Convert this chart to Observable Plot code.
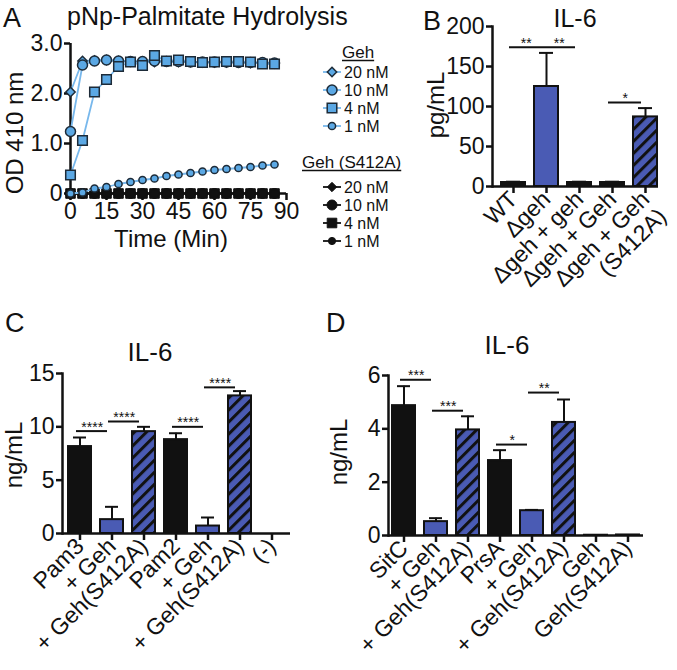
<!DOCTYPE html>
<html><head><meta charset="utf-8">
<script src="https://cdn.jsdelivr.net/npm/d3@7"></script>
<script src="https://cdn.jsdelivr.net/npm/@observablehq/plot@0.6"></script>
<style>
html,body{margin:0;padding:0;background:#fff;}
#fig{position:relative;width:677px;height:670px;overflow:hidden;background:#fff;}
</style></head>
<body><div id="fig"></div>
<script>
// ---------------- DATA ----------------
// Panel A: pNp-Palmitate hydrolysis (OD 410 nm vs time, min)
const times = [0,5,10,15,20,25,30,35,40,45,50,55,60,65,70,75,80,85];
const concLabels = ["20 nM","10 nM","4 nM","1 nM"];
const geh20 = [2.03,2.65,2.66,2.67,2.65,2.64,2.64,2.63,2.64,2.63,2.63,2.62,2.62,2.62,2.62,2.61,2.61,2.60];
const geh10 = [1.24,2.57,2.65,2.67,2.65,2.64,2.64,2.65,2.64,2.64,2.63,2.63,2.63,2.63,2.62,2.62,2.62,2.61];
const geh4  = [0.37,1.06,2.03,2.28,2.54,2.63,2.56,2.76,2.65,2.67,2.64,2.62,2.63,2.64,2.64,2.63,2.59,2.59];
const geh1  = [0.00,0.02,0.10,0.13,0.19,0.23,0.27,0.30,0.35,0.38,0.41,0.44,0.47,0.49,0.51,0.53,0.56,0.58];
const mut20 = [0,0,0,0,0,0,0,0,0,0,0,0,0,0,0,0,0,0];
const mut10 = [0,0,0,0,0,0,0,0,0,0,0,0,0,0,0,0,0,0];
const mut4  = [0,0,0,0,0,0,0,0,0,0,0,0,0,0,0,0,0,0];
const mut1  = [0,0,0,0,0,0,0,0,0,0,0,0,0,0,0,0,0,0];
const xTicksA = [0,15,30,45,60,75,90];
const yTicksA = [0,1,2,3];

// Panel B: IL-6 (pg/mL)
const catsB = ["WT","Δgeh","Δgeh + geh","Δgeh + Geh","Δgeh + Geh\n(S412A)"];
const valsB = [5,125,5,5,87];
const errsB = [1,42,1,1,11];
const sigB = [{from:0,to:1,y:174,label:"**"},{from:1,to:2,y:174,label:"**"},{from:3,to:4,y:105,label:"*"}];
const yTicksB = [0,50,100,150,200];

// Panel C: IL-6 (ng/mL)
const catsC = ["Pam3","+ Geh","+ Geh(S412A)","Pam2","+ Geh","+ Geh(S412A)","(-)"];
const valsC = [8.15,1.3,9.55,8.8,0.7,12.9,0];
const errsC = [0.85,1.2,0.45,0.6,0.8,0.45,0];
const sigC = [{from:0,to:1,y:9.6,label:"****"},{from:1,to:2,y:10.5,label:"****"},{from:3,to:4,y:10.0,label:"****"},{from:4,to:5,y:13.7,label:"****"}];
const yTicksC = [0,5,10,15];

// Panel D: IL-6 (ng/mL)
const catsD = ["SitC","+ Geh","+ Geh(S412A)","PrsA","+ Geh","+ Geh(S412A)","Geh","Geh(S412A)"];
const valsD = [4.87,0.52,3.96,2.81,0.93,4.24,0.01,0.02];
const errsD = [0.73,0.13,0.51,0.39,0.03,0.86,0,0];
const sigD = [{from:0,to:1,y:5.84,label:"***"},{from:1,to:2,y:4.68,label:"***"},{from:3,to:4,y:3.41,label:"*"},{from:4,to:5,y:5.36,label:"**"}];
const yTicksD = [0,2,4,6];

// ---------------- STYLES ----------------
const FONT = '"Liberation Sans", Arial, Helvetica, sans-serif';
const INK = "#111111";
const BLUE = "#4a5bb4";
const LB_FILL = "#5ba8e4";
const LB_LINE = "#78b8ec";
const MK_STROKE = "#1d2b38";
const symA = [{symbol:"diamond2", r:4.2},{symbol:"circle", r:5},{symbol:"square", r:5.4},{symbol:"circle", r:3.6}];
const kindsB = ["dark","blue","dark","dark","hatch"];
const kindsC = ["dark","blue","hatch","dark","blue","hatch","dark"];
const kindsD = ["dark","blue","hatch","dark","blue","hatch","dark","dark"];

const fig = document.getElementById("fig");
function place(svg, left, top) {
  svg.style.position = "absolute";
  svg.style.left = left + "px";
  svg.style.top = top + "px";
  svg.style.overflow = "visible";
  svg.style.maxWidth = "none";
  fig.appendChild(svg);
}
const baseStyle = (fs) => ({fontFamily: FONT, fontSize: fs + "px", color: INK, background: "transparent", overflow: "visible"});

// ---------------- PANEL A ----------------
const rowsA = [];
[["Geh",[geh20,geh10,geh4,geh1]],["S412A",[mut20,mut10,mut4,mut1]]].forEach(([g, series]) =>
  series.forEach((vals, ci) => vals.forEach((v, ti) => rowsA.push({group: g, ci, conc: concLabels[ci], t: times[ti], od: v}))));
const gehRows = rowsA.filter(d => d.group === "Geh");
const mutRows = rowsA.filter(d => d.group === "S412A");

const plotA = Plot.plot({
  width: 300, height: 270,
  marginLeft: 70, marginRight: 14, marginTop: 43, marginBottom: 77,
  style: baseStyle(23),
  x: {domain: [0, 90]},
  y: {domain: [0, 3]},
  marks: [
    Plot.ruleX([0], {stroke: INK, strokeWidth: 2.5}),
    Plot.ruleY([0], {stroke: INK, strokeWidth: 2.5}),
    Plot.axisY({ticks: yTicksA, tickFormat: d => d === 0 ? "0" : d.toFixed(1), tickSize: 6, tickPadding: 2, strokeWidth: 2.5, label: null}),
    Plot.axisX({ticks: xTicksA, tickFormat: d => String(d), tickSize: 7, tickPadding: 2, strokeWidth: 2.5, label: null}),
    Plot.line(mutRows, {x: "t", y: "od", z: "conc", stroke: INK, strokeWidth: 1.6}),
    ...symA.map((s, ci) => Plot.dot(mutRows.filter(d => d.ci === ci), {x: "t", y: "od", symbol: s.symbol, r: s.r, fill: INK, stroke: INK, strokeWidth: 1})),
    Plot.line(gehRows, {x: "t", y: "od", z: "conc", stroke: LB_LINE, strokeWidth: 1.8}),
    ...symA.map((s, ci) => Plot.dot(gehRows.filter(d => d.ci === ci), {x: "t", y: "od", symbol: s.symbol, r: s.r, fill: LB_FILL, stroke: MK_STROKE, strokeWidth: 1.5}))
  ]
});
place(plotA, 0, 0);

// ---------------- BAR PANELS ----------------
function addHatch(svg, id) {
  const defs = d3.select(svg).insert("defs", ":first-child");
  const p = defs.append("pattern").attr("id", id).attr("patternUnits", "userSpaceOnUse")
    .attr("width", 8.5).attr("height", 8.5).attr("patternTransform", "rotate(45)");
  p.append("rect").attr("width", 8.5).attr("height", 8.5).attr("fill", BLUE);
  p.append("line").attr("x1", 1.5).attr("x2", 1.5).attr("y1", -1).attr("y2", 9.5).attr("stroke", INK).attr("stroke-width", 3);
}

function barPanel(o) {
  const n = o.cats.length;
  const lines = o.cats.map(c => c.split("\n"));
  const second = d3.range(n).filter(i => lines[i].length > 1);
  const rows = o.cats.map((c, i) => ({i, v: o.vals[i], e: o.errs[i]}));
  const errRows = rows.filter(d => d.e > 0);
  const step = (o.xRange[1] - o.xRange[0]) / n;
  const fillOf = {dark: INK, blue: BLUE, hatch: `url(#${o.patId})`};
  const svg = Plot.plot({
    width: o.width, height: o.height,
    marginLeft: o.ml, marginRight: o.mr, marginTop: o.mt, marginBottom: o.mb,
    style: baseStyle(23),
    x: {type: "band", domain: d3.range(n), range: o.xRange, paddingInner: 0.28, paddingOuter: 0.14},
    y: {domain: o.yDomain},
    marks: [
      Plot.ruleX(errRows, {x: "i", y1: "v", y2: d => d.v + d.e, stroke: INK, strokeWidth: 2}),
      Plot.tickY(errRows, {x: "i", y: d => d.v + d.e, stroke: INK, strokeWidth: 2, insetLeft: 5, insetRight: 5}),
      ...["dark","blue","hatch"].map(k => Plot.barY(rows, {filter: d => o.kinds[d.i] === k, x: "i", y: "v", fill: fillOf[k], stroke: INK, strokeWidth: 2})),
      Plot.ruleY(o.sig, {x1: "from", x2: "to", y: "y", stroke: INK, strokeWidth: 2, insetLeft: 8, insetRight: 16}),
      Plot.text(o.sig, {x: "from", y: "y", text: "label", dx: step / 2 - 4, dy: -4, fontSize: 14, fill: INK}),
      Plot.frame({anchor: "left", stroke: INK, strokeWidth: 2.5}),
      Plot.ruleY([0], {stroke: INK, strokeWidth: 2.5}),
      Plot.axisY({ticks: o.yTicks, tickFormat: d => String(d), tickSize: 6, tickPadding: 2, strokeWidth: 2.5, label: null}),
      Plot.axisX({tickRotate: -45, tickSize: 7, tickPadding: 2, strokeWidth: 2.5, tickFormat: i => lines[i][0], label: null}),
      ...(second.length ? [Plot.axisX({ticks: second, tickRotate: -45, tickSize: 0, tickPadding: 9, dx: 17, dy: 17, tickFormat: i => lines[i][1], label: null})] : [])
    ]
  });
  addHatch(svg, o.patId);
  place(svg, o.left, o.top);
}

barPanel({cats: catsB, vals: valsB, errs: errsB, sig: sigB, kinds: kindsB, yDomain: [0,200], yTicks: yTicksB,
  left: 340, top: 0, width: 337, height: 300, ml: 152, mr: 19, mt: 26, mb: 114, xRange: [155.4, 321.9], patId: "hatchB"});
barPanel({cats: catsC, vals: valsC, errs: errsC, sig: sigC, kinds: kindsC, yDomain: [0,15], yTicks: yTicksC,
  left: 0, top: 300, width: 340, height: 370, ml: 62, mr: 50, mt: 73, mb: 137, xRange: [61.75, 289.25], patId: "hatchC"});
barPanel({cats: catsD, vals: valsD, errs: errsD, sig: sigD, kinds: kindsD, yDomain: [0,6], yTicks: yTicksD,
  left: 340, top: 300, width: 337, height: 370, ml: 48, mr: 34, mt: 75, mb: 135, xRange: [45.8, 305], patId: "hatchD"});

// ---------------- OVERLAY TEXT & LEGEND ----------------
const ov = d3.create("svg").attr("width", 677).attr("height", 670)
  .style("position", "absolute").style("left", "0px").style("top", "0px").style("pointer-events", "none")
  .attr("font-family", FONT).attr("fill", INK);
function txt(s, x, y, fs, anchor = "start", rot = 0) {
  const t = ov.append("text").attr("font-size", fs).attr("text-anchor", anchor).text(s);
  if (rot) t.attr("transform", `translate(${x},${y}) rotate(${rot})`); else t.attr("x", x).attr("y", y);
  return t;
}
// panel letters
txt("A", 3, 27, 27); txt("B", 423, 30, 27); txt("C", 5, 332, 27); txt("D", 326, 332, 27);
// titles
txt("pNp-Palmitate Hydrolysis", 67, 25, 25);
txt("IL-6", 575, 27, 25, "middle");
txt("IL-6", 150, 361, 26, "middle");
txt("IL-6", 507, 354, 26, "middle");
// axis titles
txt("OD 410 nm", 23, 133, 24, "middle", -90);
txt("Time (Min)", 171, 247, 24, "middle");
txt("pg/mL", 444, 105, 24, "middle", -90);
txt("ng/mL", 22, 455, 24, "middle", -90);
txt("ng/mL", 347, 452, 24, "middle", -90);

// legend
const symType = {diamond2: d3.symbolDiamond2, circle: d3.symbolCircle, square: d3.symbolSquare};
const LFS = 16;
function legendBlock(title, tx, ty, rowYs, lineColor, fillColor, strokeColor, sw) {
  const t = txt(title, tx, ty, LFS + 1);
  const w = t.node().getComputedTextLength();
  ov.append("line").attr("x1", tx).attr("x2", tx + w).attr("y1", ty + 2.5).attr("y2", ty + 2.5).attr("stroke", INK).attr("stroke-width", 1.5);
  rowYs.forEach((y, ci) => {
    ov.append("line").attr("x1", 323).attr("x2", 341).attr("y1", y).attr("y2", y).attr("stroke", lineColor).attr("stroke-width", 1.8);
    const s = symA[ci];
    ov.append("path").attr("d", d3.symbol(symType[s.symbol], Math.PI * s.r * s.r)())
      .attr("transform", `translate(332,${y})`).attr("fill", fillColor).attr("stroke", strokeColor).attr("stroke-width", sw);
    txt(concLabels[ci], 344, y + 6, LFS);
  });
}
fig.appendChild(ov.node());
legendBlock("Geh", 342, 58, [72, 90, 108, 126], LB_LINE, LB_FILL, MK_STROKE, 1.5);
legendBlock("Geh (S412A)", 302, 168, [187, 205, 223, 241], INK, INK, INK, 1);
</script>
</body></html>
